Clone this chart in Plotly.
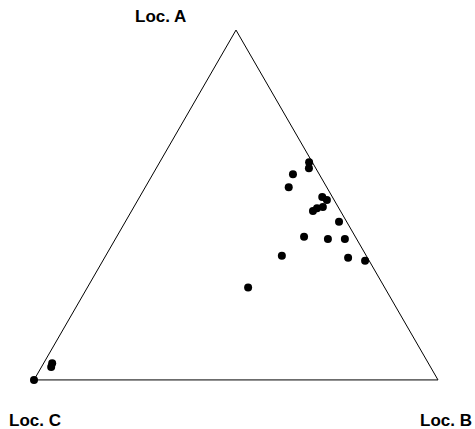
import plotly.graph_objects as go

# ternary composition of each sample (fractions)
loc_a = [0.622, 0.605, 0.588, 0.551, 0.523, 0.514, 0.494, 0.491, 0.483, 0.452,
         0.409, 0.403, 0.403, 0.355, 0.349, 0.341, 0.264, 0.048, 0.037, 0.0]
loc_b = [0.370, 0.378, 0.347, 0.355, 0.452, 0.468, 0.468, 0.455, 0.449, 0.529,
         0.464, 0.526, 0.568, 0.436, 0.603, 0.649, 0.398, 0.021, 0.024, 0.0]
loc_c = [round(1 - a - b, 3) for a, b in zip(loc_a, loc_b)]

labels = ["Loc. A", "Loc. C", "Loc. B"]

fig = go.Figure()
fig.add_trace(go.Scatterternary(
    a=loc_a, b=loc_c, c=loc_b,
    mode="markers",
    marker=dict(color="black", size=8, line=dict(width=0)),
    cliponaxis=False,
    hoverinfo="skip",
))

axis_style = dict(showticklabels=False, ticks="", showgrid=False,
                  linecolor="black", linewidth=1, title=dict(text=""), min=0)

fig.update_layout(
    template="none",
    width=475, height=429,
    margin=dict(l=34, r=37, t=29, b=48, pad=0, autoexpand=False),
    paper_bgcolor="white",
    showlegend=False,
    ternary=dict(
        bgcolor="white",
        sum=1,
        aaxis=axis_style,
        baxis=axis_style,
        caxis=axis_style,
    ),
    font=dict(family="Liberation Sans, Arial, sans-serif", color="black"),
)

ann_font = dict(family="Liberation Sans, Arial, sans-serif", size=17, color="black")
fig.add_annotation(text="<b>%s</b>" % labels[0], x=0.314, y=1.036, xref="paper", yref="paper",
                   showarrow=False, xanchor="center", yanchor="middle", font=ann_font)
fig.add_annotation(text="<b>%s</b>" % labels[1], x=0.0025, y=-0.112, xref="paper", yref="paper",
                   showarrow=False, xanchor="center", yanchor="middle", font=ann_font)
fig.add_annotation(text="<b>%s</b>" % labels[2], x=1.020, y=-0.112, xref="paper", yref="paper",
                   showarrow=False, xanchor="center", yanchor="middle", font=ann_font)

fig.write_html("out.html", config={"displayModeBar": False},
               post_script="document.body.style.margin='0px';")
